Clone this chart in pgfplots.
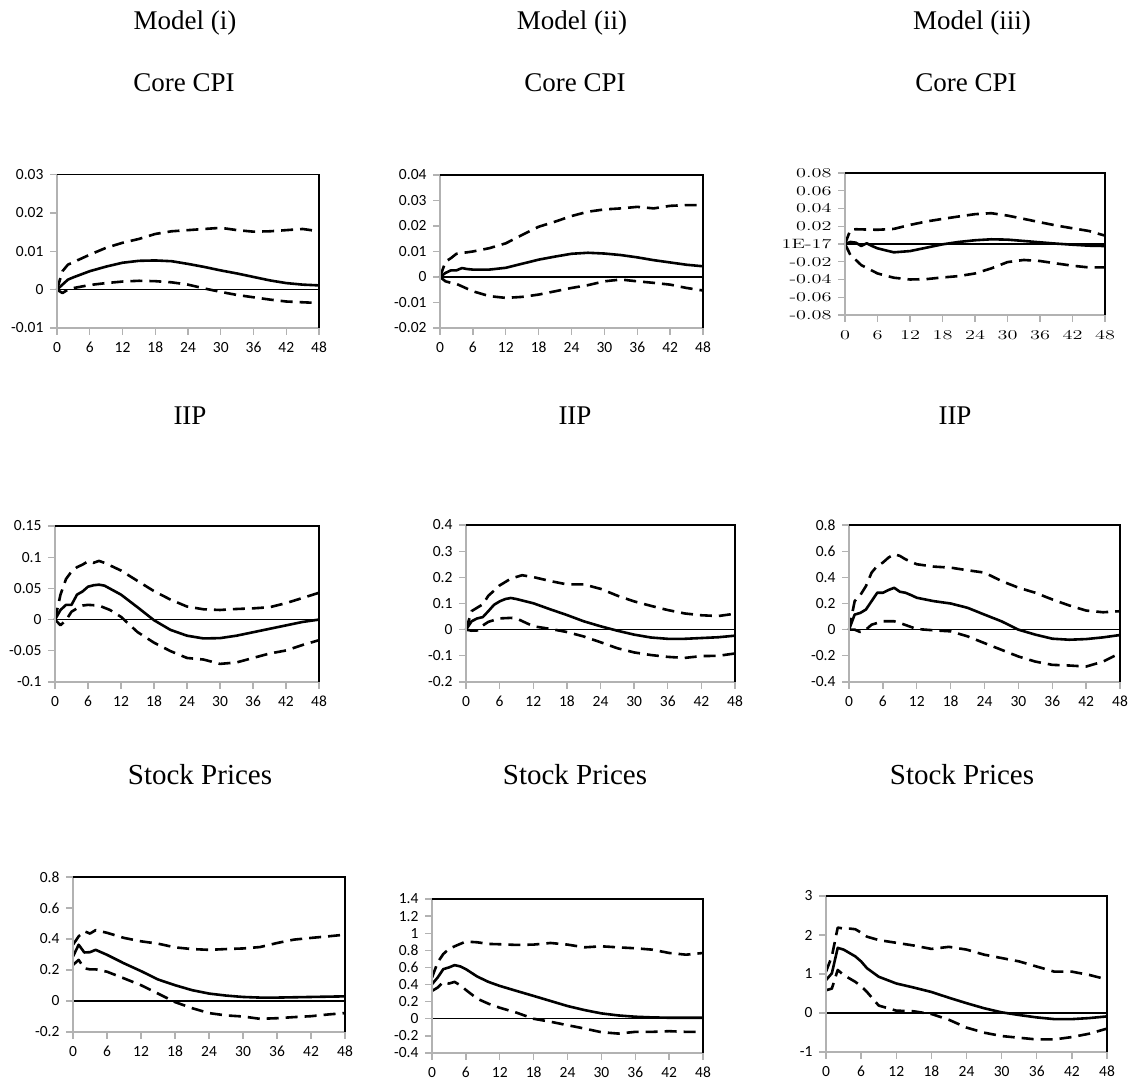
\documentclass[border=0pt]{standalone}
\usepackage{fontspec}
\setmainfont{Liberation Serif}
\newfontfamily\calibri{Carlito}
\usepackage{graphicx}
\usepackage{pgfplots}
\pgfplotsset{compat=1.18}

\pgfplotsset{
 irf/.style={
  scale only axis, xmin=0, xmax=48, xtick={0,6,...,48},
  xticklabels={0,6,12,18,24,30,36,42,48},
  scaled y ticks=false, scaled x ticks=false,
  axis line style={draw=none},
  tick align=outside, major tick length=7pt,
  tick style={draw=gray!60, line width=1.3pt},
  xtick pos=bottom, ytick pos=left,
  tick label style={font=\calibri\fontsize{15.5}{17}\selectfont},
  yticklabel style={xshift=-3pt},
  xticklabel style={yshift=-3pt, text height=11pt, text depth=0pt},
  clip=false,
  every axis plot/.append style={line width=2.6pt, line join=round},
 },
 mid/.style={black, solid},
 band/.style={black, dash pattern=on 12pt off 7pt},
 zero/.style={black, line width=1.4pt},
}
\newcommand{\irfframe}{%
 \draw[gray!60, line width=1.5pt] (rel axis cs:0,1) -- (rel axis cs:0,0) -- (rel axis cs:1,0);
 \draw[black, line width=1.3pt] (rel axis cs:0,1) -- (rel axis cs:1,1) -- (rel axis cs:1,0);}
\newcommand{\cent}[1]{\scalebox{1.5}[1]{\fontfamily{lmr}\selectfont #1}}

\begin{document}
\begin{tikzpicture}
\useasboundingbox (0,0) rectangle (1132pt,1083pt);

% titles
\begin{scope}[every node/.style={anchor=base, inner sep=0pt, font=\fontsize{27}{30}\selectfont}]
\node at (185pt,1053pt) {Model (i)};
\node at (572pt,1053pt) {Model (ii)};
\node at (972pt,1053pt) {Model (iii)};
\node at (184pt,991pt) {Core CPI};
\node at (575pt,991pt) {Core CPI};
\node at (966pt,991pt) {Core CPI};
\node at (190pt,658pt) {IIP};
\node at (575pt,658pt) {IIP};
\node at (955pt,658pt) {IIP};
\end{scope}
\begin{scope}[every node/.style={anchor=base, inner sep=0pt, font=\fontsize{29}{32}\selectfont}]
\node at (200pt,298pt) {Stock Prices};
\node at (575pt,298pt) {Stock Prices};
\node at (962pt,298pt) {Stock Prices};
\end{scope}

% ---------- Panel 1: Model (i) Core CPI
\begin{axis}[irf, at={(57pt,755pt)}, anchor=south west, width=262pt, height=153.5pt,
  ymin=-0.01, ymax=0.03, ytick={-0.01,0,0.01,0.02,0.03},
  yticklabels={-0.01,0,0.01,0.02,0.03}]
\addplot[zero] coordinates {(0,0) (48,0)};
\addplot[band] coordinates {(0,0) (1,0.0048) (2,0.0065) (6,0.0091) (9,0.0109) (12,0.0122) (15,0.0132) (18,0.0145) (21,0.0152) (24,0.0155) (27,0.0158) (30,0.0161) (33,0.0155) (36,0.0151) (39,0.0152) (42,0.0155) (45,0.0158) (48,0.0152)};
\addplot[band] coordinates {(0,0) (1,-0.0009) (2,0) (3,0.0004) (6,0.0012) (9,0.0017) (12,0.0021) (15,0.0023) (18,0.0022) (21,0.0019) (24,0.0013) (27,0.0003) (30,-0.0006) (33,-0.0014) (36,-0.002) (39,-0.0026) (42,-0.0031) (45,-0.0033) (48,-0.0035)};
\addplot[mid] coordinates {(0,0) (2,0.0026) (3,0.0032) (6,0.0048) (9,0.006) (12,0.007) (15,0.0075) (18,0.0076) (21,0.0074) (24,0.0067) (27,0.0059) (30,0.005) (33,0.0042) (36,0.0033) (39,0.0024) (42,0.0017) (45,0.0013) (48,0.0011)};
\irfframe
\end{axis}

% ---------- Panel 2: Model (ii) Core CPI
\begin{axis}[irf, at={(440pt,755pt)}, anchor=south west, width=263pt, height=153pt,
  ymin=-0.02, ymax=0.04, ytick={-0.02,-0.01,0,0.01,0.02,0.03,0.04},
  yticklabels={-0.02,-0.01,0,0.01,0.02,0.03,0.04}]
\addplot[zero] coordinates {(0,0) (48,0)};
\addplot[band] coordinates {(0,0) (1,0.006) (2,0.0074) (3,0.0091) (6,0.01) (9,0.0113) (12,0.0132) (15,0.0165) (18,0.0197) (21,0.0217) (24,0.0239) (27,0.0256) (30,0.0265) (33,0.0269) (36,0.0275) (39,0.0269) (42,0.0279) (45,0.0282) (48,0.0282)};
\addplot[band] coordinates {(0,0) (1,-0.0017) (2,-0.0023) (3,-0.0027) (6,-0.0056) (9,-0.0075) (12,-0.0082) (15,-0.0078) (18,-0.0069) (21,-0.0056) (24,-0.0043) (27,-0.0032) (30,-0.0017) (33,-0.001) (36,-0.0017) (39,-0.0023) (42,-0.003) (45,-0.0043) (48,-0.0053)};
\addplot[mid] coordinates {(0,0) (1,0.0016) (2,0.0026) (3,0.0026) (4,0.0035) (5,0.0031) (6,0.0029) (9,0.0029) (12,0.0036) (15,0.0052) (18,0.0068) (21,0.008) (24,0.0091) (27,0.0095) (30,0.0092) (33,0.0086) (36,0.0077) (39,0.0066) (42,0.0057) (45,0.0048) (48,0.0042)};
\irfframe
\end{axis}

% ---------- Panel 3: Model (iii) Core CPI
\begin{axis}[irf, at={(845pt,768pt)}, anchor=south west, width=260pt, height=142pt,
  ymin=-0.08, ymax=0.08, ytick={-0.08,-0.06,-0.04,-0.02,0,0.02,0.04,0.06,0.08},
  yticklabels={\cent{-0.08},\cent{-0.06},\cent{-0.04},\cent{-0.02},\cent{1E-17},\cent{0.02},\cent{0.04},\cent{0.06},\cent{0.08}},
  xticklabels={\cent{0},\cent{6},\cent{12},\cent{18},\cent{24},\cent{30},\cent{36},\cent{42},\cent{48}},
  tick label style={font=\fontsize{13.5}{15}\selectfont}]
\addplot[zero] coordinates {(0,0) (48,0)};
\addplot[band] coordinates {(0,0) (1,0.016) (2,0.0166) (6,0.016) (9,0.017) (12,0.0215) (15,0.0253) (18,0.0283) (21,0.031) (24,0.0336) (27,0.0347) (30,0.032) (33,0.0283) (36,0.0245) (39,0.0208) (42,0.0177) (45,0.0147) (48,0.0094)};
\addplot[band] coordinates {(0,0) (1,-0.0125) (2,-0.018) (3,-0.0238) (6,-0.0332) (9,-0.038) (12,-0.04) (15,-0.0396) (18,-0.0377) (21,-0.0362) (24,-0.0332) (27,-0.0275) (30,-0.0204) (33,-0.018) (36,-0.0192) (39,-0.0219) (42,-0.0245) (45,-0.0264) (48,-0.0264)};
\addplot[mid] coordinates {(0,0) (1,0.0023) (2,0.0015) (3,-0.0023) (4,0.0008) (5,-0.0023) (6,-0.0049) (9,-0.0094) (12,-0.008) (15,-0.0042) (18,-0.0004) (21,0.0023) (24,0.0042) (27,0.0053) (30,0.0049) (33,0.0034) (36,0.0019) (39,0.0004) (42,-0.0008) (45,-0.0019) (48,-0.0023)};
\irfframe
\end{axis}

% ---------- Panel 4: Model (i) IIP
\begin{axis}[irf, at={(55pt,401pt)}, anchor=south west, width=264pt, height=156pt,
  ymin=-0.1, ymax=0.15, ytick={-0.1,-0.05,0,0.05,0.1,0.15},
  yticklabels={-0.1,-0.05,0,0.05,0.1,0.15}]
\addplot[zero] coordinates {(0,0) (48,0)};
\addplot[band] coordinates {(0,0) (1,0.04) (2,0.065) (3,0.077) (4,0.084) (5,0.088) (6,0.0934) (7,0.091) (8,0.094) (9,0.091) (12,0.0786) (15,0.062) (18,0.0456) (21,0.032) (24,0.0209) (27,0.0165) (30,0.0154) (33,0.017) (36,0.018) (39,0.0198) (42,0.0264) (45,0.0346) (48,0.043)};
\addplot[band] coordinates {(0,0) (1,-0.009) (2,-0.001) (3,0.0126) (4,0.018) (5,0.0225) (6,0.0236) (8,0.0225) (10,0.0154) (12,0.0044) (15,-0.02) (18,-0.037) (21,-0.0505) (24,-0.0615) (27,-0.064) (30,-0.071) (33,-0.0687) (36,-0.0615) (39,-0.0544) (42,-0.0495) (45,-0.0407) (48,-0.033)};
\addplot[mid] coordinates {(0,0) (1,0.0154) (2,0.0236) (3,0.0236) (4,0.04) (5,0.045) (6,0.0527) (7,0.055) (8,0.056) (9,0.0544) (12,0.04) (15,0.0198) (18,-0.001) (21,-0.0165) (24,-0.0258) (27,-0.0302) (30,-0.0297) (33,-0.0258) (36,-0.0203) (39,-0.0148) (42,-0.0093) (45,-0.0038) (48,0)};
\irfframe
\end{axis}

% ---------- Panel 5: Model (ii) IIP
\begin{axis}[irf, at={(466pt,401pt)}, anchor=south west, width=269pt, height=157pt,
  ymin=-0.2, ymax=0.4, ytick={-0.2,-0.1,0,0.1,0.2,0.3,0.4},
  yticklabels={-0.2,-0.1,0,0.1,0.2,0.3,0.4}]
\addplot[zero] coordinates {(0,0) (48,0)};
\addplot[band] coordinates {(0,0) (1,0.071) (2,0.084) (3,0.097) (4,0.13) (5,0.149) (6,0.169) (8,0.195) (10,0.208) (12,0.201) (15,0.186) (18,0.173) (21,0.173) (24,0.156) (27,0.13) (30,0.108) (33,0.091) (36,0.075) (39,0.062) (42,0.055) (45,0.052) (48,0.061)};
\addplot[band] coordinates {(0,0) (1,-0.004) (2,-0.003) (3,0.016) (4,0.03) (6,0.043) (8,0.045) (9,0.043) (12,0.013) (15,0.003) (18,-0.009) (21,-0.026) (24,-0.048) (27,-0.071) (30,-0.087) (33,-0.097) (36,-0.104) (39,-0.108) (42,-0.101) (45,-0.1) (48,-0.091)};
\addplot[mid] coordinates {(0,0) (1,0.032) (2,0.043) (3,0.048) (4,0.071) (5,0.095) (6,0.108) (7,0.117) (8,0.121) (9,0.117) (12,0.101) (15,0.078) (18,0.056) (21,0.032) (24,0.013) (27,-0.004) (30,-0.019) (33,-0.03) (36,-0.035) (39,-0.035) (42,-0.032) (45,-0.029) (48,-0.023)};
\irfframe
\end{axis}

% ---------- Panel 6: Model (iii) IIP
\begin{axis}[irf, at={(849pt,401pt)}, anchor=south west, width=271pt, height=157pt,
  ymin=-0.4, ymax=0.8, ytick={-0.4,-0.2,0,0.2,0.4,0.6,0.8},
  yticklabels={-0.4,-0.2,0,0.2,0.4,0.6,0.8}]
\addplot[zero] coordinates {(0,0) (48,0)};
\addplot[band] coordinates {(0,0) (1,0.218) (2,0.264) (3,0.333) (4,0.436) (5,0.487) (6,0.513) (7,0.551) (8,0.577) (9,0.564) (10,0.538) (12,0.5) (15,0.482) (18,0.474) (21,0.454) (24,0.436) (27,0.372) (30,0.321) (33,0.282) (36,0.231) (39,0.185) (42,0.146) (45,0.133) (48,0.141)};
\addplot[band] coordinates {(0,0) (1,0) (2,-0.018) (3,0) (4,0.038) (5,0.051) (6,0.064) (7,0.064) (8,0.064) (9,0.051) (12,0.005) (15,-0.005) (18,-0.013) (21,-0.051) (24,-0.103) (27,-0.154) (30,-0.205) (33,-0.244) (36,-0.269) (39,-0.274) (42,-0.282) (45,-0.244) (48,-0.179)};
\addplot[mid] coordinates {(0,0) (1,0.115) (2,0.128) (3,0.154) (4,0.218) (5,0.282) (6,0.282) (7,0.303) (8,0.32) (9,0.29) (10,0.282) (11,0.264) (12,0.244) (15,0.218) (18,0.2) (21,0.167) (24,0.115) (27,0.064) (30,0) (33,-0.038) (36,-0.069) (39,-0.077) (42,-0.072) (45,-0.059) (48,-0.041)};
\irfframe
\end{axis}

% ---------- Panel 7: Model (i) Stock Prices
\begin{axis}[irf, at={(73pt,51pt)}, anchor=south west, width=272pt, height=155pt,
  ymin=-0.2, ymax=0.8, ytick={-0.2,0,0.2,0.4,0.6,0.8},
  yticklabels={-0.2,0,0.2,0.4,0.6,0.8}]
\addplot[zero] coordinates {(0,0) (48,0)};
\addplot[band] coordinates {(0,0.363) (1,0.417) (2,0.45) (3,0.435) (4,0.457) (6,0.44) (9,0.407) (12,0.385) (15,0.37) (18,0.346) (21,0.335) (24,0.33) (27,0.335) (30,0.339) (33,0.348) (36,0.374) (39,0.396) (42,0.407) (45,0.417) (48,0.428)};
\addplot[band] coordinates {(0,0.233) (1,0.265) (2,0.211) (3,0.204) (4,0.204) (6,0.189) (9,0.146) (12,0.102) (15,0.048) (18,-0.007) (21,-0.046) (24,-0.078) (27,-0.093) (30,-0.1) (33,-0.115) (36,-0.111) (39,-0.104) (42,-0.098) (45,-0.087) (48,-0.078)};
\addplot[mid] coordinates {(0,0.287) (1,0.363) (2,0.313) (3,0.315) (4,0.33) (6,0.298) (9,0.243) (12,0.193) (15,0.139) (18,0.102) (21,0.07) (24,0.048) (27,0.035) (30,0.026) (33,0.022) (36,0.022) (39,0.024) (42,0.026) (45,0.028) (48,0.03)};
\irfframe
\end{axis}

% ---------- Panel 8: Model (ii) Stock Prices
\begin{axis}[irf, at={(432pt,30pt)}, anchor=south west, width=271pt, height=154pt,
  ymin=-0.4, ymax=1.4, ytick={-0.4,-0.2,0,0.2,0.4,0.6,0.8,1,1.2,1.4},
  yticklabels={-0.4,-0.2,0,0.2,0.4,0.6,0.8,1,1.2,1.4}]
\addplot[zero] coordinates {(0,0) (48,0)};
\addplot[band] coordinates {(0,0.482) (1,0.659) (2,0.757) (3,0.816) (4,0.847) (5,0.875) (6,0.902) (8,0.894) (10,0.875) (12,0.871) (15,0.863) (18,0.867) (21,0.886) (24,0.867) (27,0.835) (30,0.847) (33,0.835) (36,0.824) (39,0.808) (42,0.769) (45,0.749) (48,0.769)};
\addplot[band] coordinates {(0,0.325) (1,0.365) (2,0.431) (3,0.412) (4,0.431) (5,0.392) (6,0.337) (8,0.235) (10,0.176) (12,0.129) (15,0.071) (18,0) (21,-0.035) (24,-0.075) (27,-0.114) (30,-0.157) (33,-0.173) (36,-0.153) (39,-0.153) (42,-0.145) (45,-0.153) (48,-0.153)};
\addplot[mid] coordinates {(0,0.404) (1,0.482) (2,0.58) (3,0.6) (4,0.627) (5,0.612) (6,0.58) (8,0.494) (10,0.431) (12,0.384) (15,0.325) (18,0.267) (21,0.208) (24,0.149) (27,0.102) (30,0.063) (33,0.039) (36,0.024) (39,0.016) (42,0.012) (45,0.012) (48,0.012)};
\irfframe
\end{axis}

% ---------- Panel 9: Model (iii) Stock Prices
\begin{axis}[irf, at={(826pt,31pt)}, anchor=south west, width=281pt, height=156pt,
  ymin=-1, ymax=3, ytick={-1,0,1,2,3},
  yticklabels={-1,0,1,2,3}]
\addplot[zero] coordinates {(0,0) (48,0)};
\addplot[band] coordinates {(0,1.06) (1,1.452) (2,2.19) (3,2.165) (4,2.165) (5,2.148) (6,2.06) (7,1.957) (9,1.87) (12,1.8) (15,1.73) (18,1.643) (21,1.696) (24,1.626) (27,1.496) (30,1.409) (33,1.322) (36,1.191) (39,1.06) (42,1.06) (45,0.974) (48,0.861)};
\addplot[band] coordinates {(0,0.583) (1,0.626) (2,1.104) (3,0.974) (4,0.887) (5,0.8) (6,0.687) (7,0.539) (9,0.191) (12,0.061) (15,0.043) (18,-0.026) (21,-0.174) (24,-0.374) (27,-0.504) (30,-0.591) (33,-0.635) (36,-0.678) (39,-0.678) (42,-0.617) (45,-0.53) (48,-0.4)};
\addplot[mid] coordinates {(0,0.843) (1,1.017) (2,1.67) (3,1.626) (4,1.539) (5,1.452) (6,1.322) (7,1.148) (9,0.93) (12,0.757) (15,0.652) (18,0.539) (21,0.391) (24,0.252) (27,0.122) (30,0.017) (33,-0.052) (36,-0.113) (39,-0.157) (42,-0.157) (45,-0.13) (48,-0.087)};
\irfframe
\end{axis}
\end{tikzpicture}
\end{document}
